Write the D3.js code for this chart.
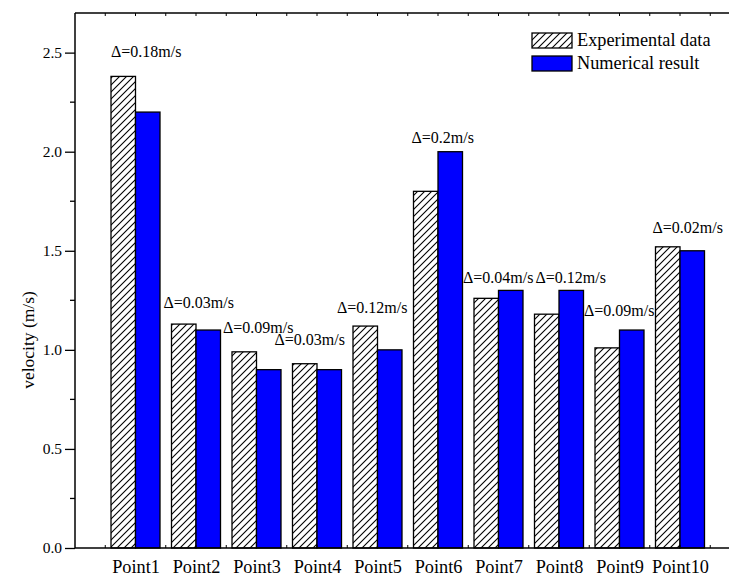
<!DOCTYPE html>
<html>
<head>
<meta charset="utf-8">
<script src="https://cdn.jsdelivr.net/npm/d3@7/dist/d3.min.js"></script>
<style>
  html, body { margin: 0; padding: 0; background: #fff; }
  svg text { font-family: "Liberation Serif", "Times New Roman", Times, "DejaVu Serif", serif; fill: #000; }
</style>
</head>
<body>
<svg id="chart" width="729" height="577"></svg>
<script>
// Measured vs simulated velocity at ten probe points
const categories = ["Point1", "Point2", "Point3", "Point4", "Point5",
                    "Point6", "Point7", "Point8", "Point9", "Point10"];
const experimental = [2.38, 1.13, 0.99, 0.93, 1.12, 1.80, 1.26, 1.18, 1.01, 1.52];
const numerical    = [2.20, 1.10, 0.90, 0.90, 1.00, 2.00, 1.30, 1.30, 1.10, 1.50];
const deltaLabels  = ["Δ=0.18m/s", "Δ=0.03m/s", "Δ=0.09m/s", "Δ=0.03m/s", "Δ=0.12m/s",
                      "Δ=0.2m/s", "Δ=0.04m/s", "Δ=0.12m/s", "Δ=0.09m/s", "Δ=0.02m/s"];
const yTicks = [0, 0.5, 1.0, 1.5, 2.0, 2.5];
const seriesNames = ["Experimental data", "Numerical result"];

// hand placement of the difference labels: shift from the hatched bar's left edge
// and height of the baseline above the taller bar (px)
const labelShift = [0, -8, -9, -18, -16, -2, -11, 1, -11, -3];
const labelLift  = [19, 16, 19, 19, 13, 9, 7, 7, 14, 14];

const svg = d3.select("#chart");
const plotLeft = 75, plotTop = 13, plotBottom = 548;
const step = 60.5;

// x: category index on a linear axis (0 and 11 are empty margins)
const x = d3.scaleLinear().domain([0, 11]).range([plotLeft, plotLeft + 11 * step]);
const y = d3.scaleLinear().domain([0, 2.7]).range([plotBottom, plotTop]);
const barW = 24.5;

// hatch pattern for the experimental bars
const defs = svg.append("defs");
const pat = defs.append("pattern")
  .attr("id", "hatch").attr("patternUnits", "userSpaceOnUse")
  .attr("width", 7).attr("height", 7);
pat.append("rect").attr("width", 7).attr("height", 7).attr("fill", "#fff");
pat.append("path").attr("d", "M-1,1 l2,-2 M0,7 l7,-7 M6,8 l2,-2")
  .attr("stroke", "#000").attr("stroke-width", 1.1);

const idx = d3.range(categories.length);

// bars
svg.append("g").selectAll("rect").data(idx).join("rect")
  .attr("x", i => x(i + 1) - barW)
  .attr("y", i => y(experimental[i]))
  .attr("width", barW)
  .attr("height", i => y(0) - y(experimental[i]))
  .attr("fill", "url(#hatch)")
  .attr("stroke", "#000").attr("stroke-width", 1.3);

svg.append("g").selectAll("rect").data(idx).join("rect")
  .attr("x", i => x(i + 1))
  .attr("y", i => y(numerical[i]))
  .attr("width", barW)
  .attr("height", i => y(0) - y(numerical[i]))
  .attr("fill", "#0000ff")
  .attr("stroke", "#000").attr("stroke-width", 1.3);

// difference labels above each pair
svg.append("g").selectAll("text").data(idx).join("text")
  .attr("x", i => x(i + 1) - barW + labelShift[i])
  .attr("y", i => y(Math.max(experimental[i], numerical[i])) - labelLift[i])
  .attr("font-size", 16)
  .text(i => deltaLabels[i]);

// left axis with minor ticks
const yAxis = d3.axisLeft(y).tickValues(yTicks).tickFormat(d3.format(".1f"))
  .tickSize(10).tickPadding(3);
const gy = svg.append("g").attr("transform", `translate(${plotLeft},0)`).call(yAxis)
  .attr("font-family", null);
gy.select(".domain").remove();
gy.selectAll("text").attr("font-size", 15.5);
gy.selectAll("line").attr("stroke-width", 1.3);
svg.append("g").selectAll("line").data(d3.range(0.25, 2.7, 0.5)).join("line")
  .attr("x1", plotLeft - 5).attr("x2", plotLeft)
  .attr("y1", d => y(d)).attr("y2", d => y(d))
  .attr("stroke", "#000").attr("stroke-width", 1.3);
svg.append("line").attr("x1", plotLeft).attr("x2", plotLeft)
  .attr("y1", plotTop).attr("y2", plotBottom).attr("stroke", "#000").attr("stroke-width", 1.5);

// bottom axis: category labels, small inward ticks
const xTickVals = d3.range(0.5, 11.01, 0.5);
const gx = svg.append("g").attr("transform", `translate(0,${plotBottom})`)
  .call(d3.axisBottom(x).tickValues(idx.map(i => i + 1))
    .tickFormat(d => categories[d - 1]).tickSize(0).tickPadding(0))
  .attr("font-family", null);
gx.select(".domain").remove();
gx.selectAll("text").attr("font-size", 18.3).attr("y", 25).attr("dy", null);
svg.append("g").selectAll("line").data(xTickVals).join("line")
  .attr("x1", d => x(d)).attr("x2", d => x(d))
  .attr("y1", plotBottom).attr("y2", plotBottom - 3)
  .attr("stroke", "#000").attr("stroke-width", 1);
svg.append("line").attr("x1", plotLeft).attr("x2", x(11))
  .attr("y1", plotBottom).attr("y2", plotBottom).attr("stroke", "#000").attr("stroke-width", 1.5);

// top frame with inward ticks
svg.append("g").selectAll("line").data(xTickVals).join("line")
  .attr("x1", d => x(d)).attr("x2", d => x(d))
  .attr("y1", plotTop).attr("y2", plotTop + 3)
  .attr("stroke", "#000").attr("stroke-width", 1);
svg.append("line").attr("x1", plotLeft).attr("x2", x(11))
  .attr("y1", plotTop).attr("y2", plotTop).attr("stroke", "#000").attr("stroke-width", 1.5);

// y axis title
svg.append("text")
  .attr("transform", "translate(34,340) rotate(-90)")
  .attr("text-anchor", "middle")
  .attr("font-size", 17.5)
  .text("velocity (m/s)");

// legend
const legend = svg.append("g").attr("transform", "translate(532,33)");
const fills = ["url(#hatch)", "#0000ff"];
seriesNames.forEach((name, k) => {
  legend.append("rect")
    .attr("x", 0).attr("y", k * 23)
    .attr("width", 40).attr("height", 15)
    .attr("fill", fills[k]).attr("stroke", "#000").attr("stroke-width", 1.3);
  legend.append("text")
    .attr("x", 45).attr("y", k * 23 + 13)
    .attr("font-size", 18.3)
    .text(name);
});
</script>
</body>
</html>
